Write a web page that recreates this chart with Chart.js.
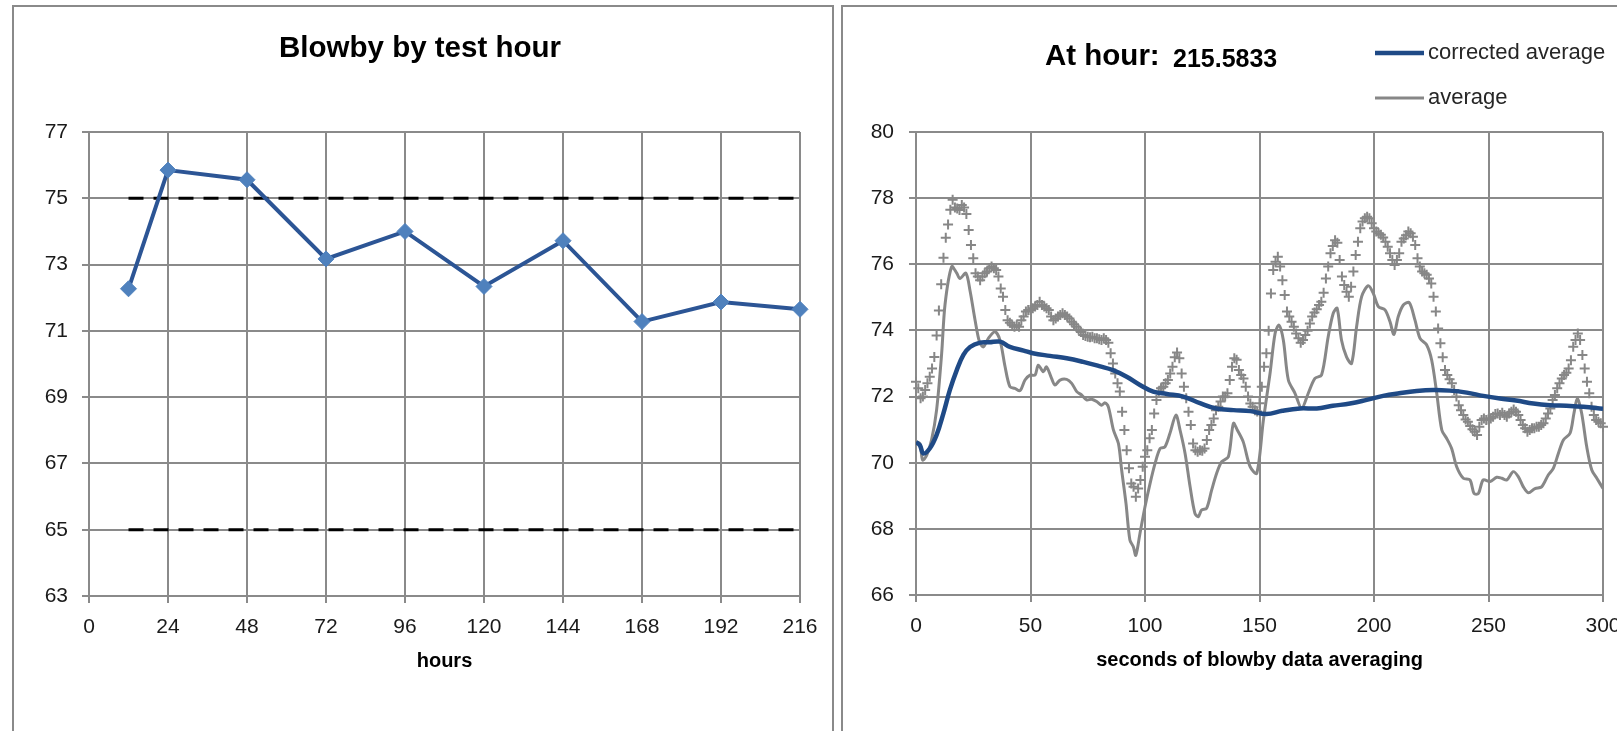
<!DOCTYPE html>
<html>
<head>
<meta charset="utf-8">
<title>Blowby</title>
<script src="https://cdn.jsdelivr.net/npm/chart.js@4.4.1/dist/chart.umd.min.js"></script>
<style>
  html, body { margin: 0; padding: 0; background: #fff; overflow: hidden; width: 1617px; height: 731px; }
  .panel { position: absolute; top: 5px; height: 800px; border: 2px solid #8a8a8a; box-sizing: border-box; }
  #leftPanel { left: 12px; width: 822px; }
  #rightPanel { left: 841px; width: 820px; }
  canvas { position: absolute; top: 0; }
  #hourChart { left: 0; }
  #avgChart { left: 843px; }
</style>
</head>
<body>
<div class="panel" id="leftPanel"></div>
<div class="panel" id="rightPanel"></div>
<canvas id="hourChart" width="830" height="731" style="width:830px;height:731px"></canvas>
<canvas id="avgChart" width="800" height="731" style="width:800px;height:731px"></canvas>
<script>
// ---- Blowby by test hour ----
const testHours = [12, 24, 48, 72, 96, 120, 144, 168, 192, 216];
const blowbyByHour = [72.27, 75.85, 75.56, 73.17, 74.0, 72.34, 73.72, 71.28, 71.87, 71.65];
const limitHours = [12, 216];
const upperLimit = 75;
const lowerLimit = 65;

// ---- Averaging window at the last test hour ----
const atHour = '215.5833';
const correctedSeconds = [0, 1.7, 3.2, 6, 9, 12, 14.8, 17.8, 20.7, 23.6, 28, 32, 36.7, 41, 47, 51, 58.5, 65.8, 73, 80,
  86, 92, 97.8, 103.6, 109.5, 116.7, 124, 131, 138.6, 146, 153, 160, 167.7, 175, 182, 189.5, 196.8, 204, 211, 218.6,
  225.9, 233, 240.5, 247.7, 255, 262, 269.6, 276.9, 284, 291.4, 300];
const correctedAverage = [70.63, 70.53, 70.28, 70.43, 70.84, 71.5, 72.2, 72.8, 73.26, 73.5, 73.63, 73.64, 73.66, 73.5, 73.39, 73.31, 73.23, 73.16, 73.05, 72.92,
  72.8, 72.6, 72.35, 72.15, 72.08, 72.0, 71.8, 71.64, 71.59, 71.56, 71.47, 71.57, 71.64, 71.64, 71.72, 71.79, 71.9, 72.02, 72.1, 72.17,
  72.2, 72.18, 72.12, 72.02, 71.94, 71.88, 71.79, 71.74, 71.72, 71.69, 71.63];

const averageSeconds = [0, 1.7, 2.9, 4.7, 6.8, 9, 11.2, 12.7, 15.6, 17.8,
  19.2, 21.8, 23.6, 25.8, 27.7, 29.4, 31.6, 34.5, 36.7, 38.9,
  41, 43.2, 45.4, 47.6, 49.8, 52, 53.4, 55.6, 57, 59.2,
  60.7, 62.9, 65.8, 68, 70.2, 72.3, 74.5, 76.7, 78.9, 81,
  82.5, 84, 86.2, 88.4, 89.8, 91.7, 93.4, 94.9, 96, 97.8,
  100, 102.2, 104.4, 106.6, 108.7, 110.9, 113.5, 115.3, 117.5, 119.7,
  121.8, 123.3, 124.7, 126.9, 129.1, 131.3, 133.5, 136.4, 138.6, 140.3,
  142.9, 145.9, 148.8, 151.7, 154.6, 156.8, 158.5, 160.4, 162.6, 165.5,
  168.4, 171.3, 174.2, 177.1, 180, 182.2, 183.9, 185.8, 188, 190.2,
  192.4, 194.6, 197.5, 199.7, 201.9, 204.8, 207, 208.7, 210.6, 212.8,
  215.4, 217.9, 220.1, 223, 225.2, 227.4, 229.6, 231.7, 233.9, 236.1,
  239, 241.9, 243.7, 245.6, 247.7, 250.7, 253.6, 255.8, 258, 260.8,
  263, 265.2, 267.4, 270.3, 273.2, 276.1, 278.3, 280.5, 282.7, 285.6,
  287.3, 288.8, 290.7, 292.9, 295.1, 297.3, 300];
const averageValues = [70.63, 70.58, 70.08, 70.23, 70.69, 71.6, 73.3, 74.8, 75.93, 75.73,
  75.57, 75.73, 75.2, 74.31, 73.66, 73.5, 73.76, 73.96, 73.7, 72.9,
  72.3, 72.25, 72.18, 72.5, 72.65, 72.65, 72.95, 72.75, 72.9, 72.55,
  72.35, 72.5, 72.52, 72.4, 72.15, 72.05, 71.9, 71.92, 71.85, 71.74,
  71.81, 71.69, 70.99, 70.58, 69.78, 68.77, 67.66, 67.46, 67.2, 67.86,
  68.67, 69.37, 69.98, 70.43, 70.48, 70.89, 71.44, 70.99, 70.28, 69.27,
  68.47, 68.37, 68.57, 68.62, 69.17, 69.68, 70.03, 70.18, 71.19, 70.99,
  70.63, 69.88, 69.68, 71.29, 72.7, 73.91, 74.16, 73.71, 72.5, 72.1,
  71.64, 72.1, 72.55, 72.65, 73.81, 74.52, 74.67, 73.71, 73.2, 73.0,
  74.11, 75.02, 75.35, 75.12, 74.72, 74.62, 74.26, 73.88, 74.42, 74.77,
  74.84, 74.31, 73.76, 73.56, 73.1, 72.1, 70.99, 70.74, 70.43, 69.88,
  69.53, 69.48, 69.07, 69.07, 69.48, 69.43, 69.56, 69.53, 69.48, 69.73,
  69.58, 69.27, 69.09, 69.22, 69.27, 69.63, 69.83, 70.28, 70.69, 70.89,
  71.49, 71.95, 71.49, 70.48, 69.78, 69.53, 69.22];

// one blowby reading per second, 0 s .. 300 s
const blowbyPerSecond = [
  72.45, 72.25, 71.95, 72.0, 72.2, 72.4, 72.6, 72.85, 73.2, 73.85,
  74.6, 75.4, 76.2, 76.8, 77.2, 77.65, 77.95, 77.72, 77.69, 77.64,
  77.79, 77.72, 77.52, 77.04, 76.58, 76.18, 75.73, 75.63, 75.52, 75.63,
  75.73, 75.78, 75.88, 75.93, 75.88, 75.83, 75.63, 75.27, 75.02, 74.62,
  74.31, 74.23, 74.16, 74.11, 74.16, 74.11, 74.31, 74.42, 74.57, 74.62,
  74.62, 74.67, 74.72, 74.77, 74.87, 74.77, 74.72, 74.67, 74.62, 74.42,
  74.31, 74.36, 74.42, 74.47, 74.52, 74.47, 74.42, 74.36, 74.26, 74.19,
  74.11, 74.03, 73.95, 73.86, 73.83, 73.81, 73.79, 73.81, 73.76, 73.76,
  73.73, 73.71, 73.76, 73.71, 73.63, 73.31, 73.0, 72.7, 72.4, 72.15,
  71.54, 70.99, 70.38, 69.83, 69.37, 69.27, 68.97, 69.22, 69.48, 69.88,
  70.18, 70.38, 70.74, 70.99, 71.49, 71.9, 72.15, 72.25, 72.3, 72.4,
  72.5, 72.7, 72.9, 73.19, 73.33, 73.16, 72.7, 72.3, 71.95, 71.54,
  71.14, 70.58, 70.38, 70.33, 70.38, 70.36, 70.43, 70.69, 70.99, 71.14,
  71.34, 71.59, 71.69, 71.85, 72.0, 72.0, 72.1, 72.5, 72.9, 73.16,
  73.11, 72.8, 72.65, 72.55, 72.3, 72.0, 71.79, 71.69, 71.59, 71.55,
  71.8, 72.3, 72.9, 73.31, 73.99, 75.12, 75.83, 76.08, 76.23, 75.93,
  75.52, 75.07, 74.57, 74.42, 74.26, 74.11, 73.91, 73.76, 73.63, 73.71,
  73.86, 73.99, 74.21, 74.42, 74.54, 74.64, 74.77, 74.87, 75.14, 75.57,
  75.93, 76.33, 76.55, 76.73, 76.65, 76.13, 75.63, 75.37, 75.17, 75.02,
  75.32, 75.78, 76.28, 76.68, 77.09, 77.29, 77.39, 77.44, 77.39, 77.24,
  77.09, 76.99, 76.94, 76.89, 76.81, 76.68, 76.53, 76.33, 76.13, 75.98,
  76.13, 76.33, 76.68, 76.78, 76.88, 76.99, 76.94, 76.83, 76.58, 76.18,
  75.93, 75.78, 75.73, 75.68, 75.57, 75.42, 75.02, 74.57, 74.06, 73.61,
  73.19, 72.8, 72.65, 72.52, 72.4, 72.2, 72.0, 71.74, 71.59, 71.44,
  71.31, 71.24, 71.11, 71.01, 70.94, 70.84, 71.09, 71.29, 71.34, 71.29,
  71.31, 71.34, 71.39, 71.47, 71.49, 71.44, 71.51, 71.44, 71.39, 71.49,
  71.54, 71.61, 71.54, 71.44, 71.29, 71.14, 71.04, 70.94, 70.99, 71.04,
  71.04, 71.09, 71.09, 71.14, 71.19, 71.34, 71.49, 71.64, 71.9, 72.05,
  72.25, 72.4, 72.55, 72.65, 72.72, 72.85, 73.1, 73.51, 73.71, 73.91,
  73.71, 73.26, 72.85, 72.45, 72.1, 71.69, 71.44, 71.29, 71.24, 71.19,
  71.09];

const seriesNames = ['corrected average', 'average'];

const FONT = '"Liberation Sans", Arial, sans-serif';
const GRID = '#8a8a8a';
const NAVY = '#1f4a86';
const GREY = '#878787';
Chart.defaults.font.family = FONT;
Chart.defaults.color = '#1a1a1a';

const pairs = (xs, ys) => xs.map((x, i) => ({ x, y: ys[i] }));

function axisStyle(extra) {
  return Object.assign({
    type: 'linear',
    grid: { color: GRID, lineWidth: 2, tickLength: 7, tickColor: GRID },
    border: { color: GRID, width: 2 },
  }, extra);
}

// ---------- left chart ----------
new Chart(document.getElementById('hourChart'), {
  type: 'line',
  data: {
    datasets: [
      {
        label: 'blowby',
        data: pairs(testHours, blowbyByHour),
        borderColor: '#2c5595',
        borderWidth: 4,
        pointStyle: 'rectRot',
        pointRadius: 8,
        pointBackgroundColor: '#4f81bd',
        pointBorderColor: '#4f81bd',
        pointBorderWidth: 1,
        tension: 0,
        clip: false
      },
      {
        label: 'upper limit',
        data: pairs(limitHours, [upperLimit, upperLimit]),
        borderColor: '#000',
        borderWidth: 3,
        borderDash: [15, 10],
        pointRadius: 0
      },
      {
        label: 'lower limit',
        data: pairs(limitHours, [lowerLimit, lowerLimit]),
        borderColor: '#000',
        borderWidth: 3,
        borderDash: [15, 10],
        pointRadius: 0
      }
    ]
  },
  options: {
    responsive: false,
    animation: false,
    layout: { padding: { left: 40, right: 30, top: 0, bottom: 55 } },
    plugins: {
      legend: { display: false },
      tooltip: { enabled: false },
      title: {
        display: true,
        text: 'Blowby by test hour',
        color: '#000',
        font: { size: 29.5, weight: 'bold', family: FONT },
        padding: { top: 31.5, bottom: 65.1 }
      }
    },
    scales: {
      x: axisStyle({
        min: 0, max: 216,
        ticks: { stepSize: 24, padding: 12, font: { size: 21 } },
        title: { display: true, text: 'hours', color: '#000', font: { size: 20, weight: 'bold' }, padding: { top: 0, bottom: 3 } },
        afterFit(s) { s.height = 80; }
      }),
      y: axisStyle({
        min: 63, max: 77,
        ticks: { stepSize: 2, padding: 14, font: { size: 21 } },
        afterFit(s) { s.width = 49; }
      })
    }
  }
});

// ---------- right chart ----------
const headerPlugin = {
  id: 'hourHeader',
  afterDraw(chart) {
    const ctx = chart.ctx;
    ctx.save();
    ctx.fillStyle = '#000';
    ctx.textBaseline = 'alphabetic';
    ctx.textAlign = 'left';
    ctx.font = 'bold 29.5px ' + FONT;
    ctx.fillText('At hour:', 202, 65);
    ctx.font = 'bold 25px ' + FONT;
    ctx.fillText(atHour, 330, 66.5);

    // legend: line sample + label for the two line series
    const rows = [53, 98];
    chart.data.datasets.slice(0, 2).forEach((ds, i) => {
      ctx.strokeStyle = ds.borderColor;
      ctx.lineWidth = ds.borderWidth;
      ctx.beginPath();
      ctx.moveTo(532, rows[i]);
      ctx.lineTo(581, rows[i]);
      ctx.stroke();
      ctx.fillStyle = '#262626';
      ctx.font = '22px ' + FONT;
      ctx.textBaseline = 'middle';
      ctx.fillText(ds.label, 585, rows[i]);
    });
    ctx.restore();
  }
};

new Chart(document.getElementById('avgChart'), {
  type: 'line',
  data: {
    datasets: [
      {
        label: seriesNames[0],
        data: pairs(correctedSeconds, correctedAverage),
        borderColor: NAVY,
        borderWidth: 4.5,
        pointRadius: 0,
        tension: 0.4
      },
      {
        label: seriesNames[1],
        data: pairs(averageSeconds, averageValues),
        borderColor: GREY,
        borderWidth: 3,
        pointRadius: 0,
        tension: 0.3
      },
      {
        label: 'blowby',
        data: blowbyPerSecond.map((v, s) => ({ x: s, y: v })),
        showLine: false,
        pointStyle: 'cross',
        pointRadius: 5,
        pointBorderWidth: 2,
        pointBorderColor: GREY,
        pointBackgroundColor: GREY,
        clip: false
      }
    ]
  },
  options: {
    responsive: false,
    animation: false,
    layout: { padding: { left: 0, right: 40, top: 132, bottom: 56 } },
    plugins: {
      legend: { display: false },
      tooltip: { enabled: false },
      title: { display: false }
    },
    scales: {
      x: axisStyle({
        min: 0, max: 300,
        ticks: { stepSize: 50, padding: 12, font: { size: 21 } },
        title: { display: true, text: 'seconds of blowby data averaging', color: '#000', font: { size: 20, weight: 'bold' }, padding: { top: 0, bottom: 3 } },
        afterFit(s) { s.height = 80; }
      }),
      y: axisStyle({
        min: 66, max: 80,
        ticks: { stepSize: 2, padding: 15, font: { size: 21 } },
        afterFit(s) { s.width = 73; }
      })
    }
  },
  plugins: [headerPlugin]
});
</script>
</body>
</html>
